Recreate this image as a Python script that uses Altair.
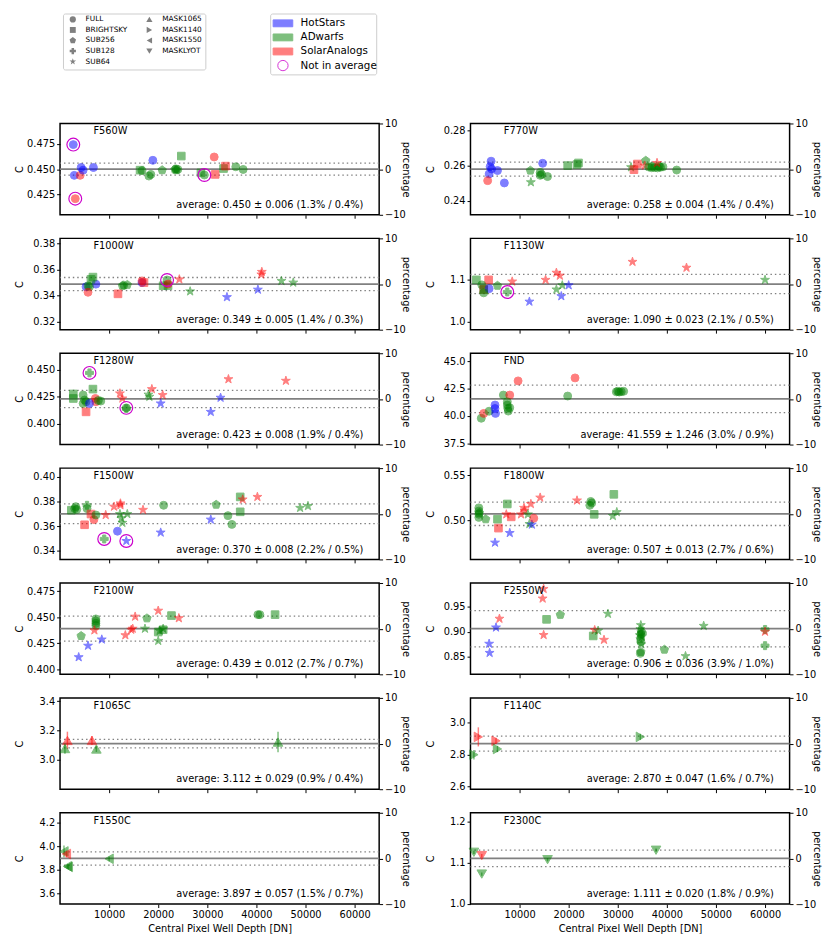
import altair as alt
import pandas as pd

# ---------------- data ----------------
FILTERS = ["F560W", "F770W", "F1000W", "F1130W", "F1280W", "FND", "F1500W",
           "F1800W", "F2100W", "F2550W", "F1065C", "F1140C", "F1550C", "F2300C"]
AVERAGE = [0.450, 0.258, 0.349, 1.090, 0.423, 41.559, 0.370, 0.507, 0.439, 0.906,
           3.112, 2.870, 3.897, 1.111]
STDDEV = [0.006, 0.004, 0.005, 0.023, 0.008, 1.246, 0.008, 0.013, 0.012, 0.036,
          0.029, 0.047, 0.057, 0.020]
PCT_STD = [1.3, 1.4, 1.4, 2.1, 1.9, 3.0, 2.2, 2.7, 2.7, 3.9, 0.9, 1.6, 1.5, 1.8]
PCT_ERR = [0.4, 0.4, 0.3, 0.5, 0.4, 0.9, 0.5, 0.6, 0.7, 1.0, 0.4, 0.7, 0.7, 0.9]
Y_TICKS = [
    [0.425, 0.450, 0.475], [0.24, 0.26, 0.28], [0.32, 0.34, 0.36, 0.38], [1.0, 1.1],
    [0.400, 0.425, 0.450], [37.5, 40.0, 42.5, 45.0], [0.34, 0.36, 0.38, 0.40],
    [0.50, 0.55], [0.400, 0.425, 0.450, 0.475], [0.85, 0.90, 0.95],
    [3.0, 3.2, 3.4], [2.6, 2.8, 3.0], [3.6, 3.8, 4.0, 4.2], [1.0, 1.1, 1.2],
]
Y_FMT = [".3f", ".2f", ".2f", ".1f", ".3f", ".1f", ".2f", ".2f", ".3f", ".2f",
         ".1f", ".1f", ".1f", ".1f"]
X_TICKS = [10000, 20000, 30000, 40000, 50000, 60000]
PCT_TICKS = [-10, 0, 10]

GROUPS = ["HotStars", "ADwarfs", "SolarAnalogs"]
GROUP_CODES = ["H", "A", "S"]
GROUP_COLORS = ["#0000ff", "#008000", "#ff0000"]

MODES = ["FULL", "BRIGHTSKY", "SUB256", "SUB128", "SUB64",
         "MASK1065", "MASK1140", "MASK1550", "MASKLYOT"]
PENTAGON = "M0,-1L0.951,-0.309L0.588,0.809L-0.588,0.809L-0.951,-0.309Z"
STAR = ("M0,-1L0.2245,-0.309L0.951,-0.309L0.363,0.118L0.588,0.809L0,0.382"
        "L-0.588,0.809L-0.363,0.118L-0.951,-0.309L-0.2245,-0.309Z")
MODE_SHAPES = ["circle", "square", PENTAGON, "cross", STAR,
               "triangle-up", "triangle-right", "triangle-left", "triangle-down"]
MODE_SIZES = [65, 60, 80, 65, 90, 95, 95, 95, 95]
LEGEND_SIZES = [40, 36, 48, 40, 50, 40, 40, 40, 40]

# (well depth [DN], C, group, readout mode, excluded from average)
F560W = [
    (2700, 0.4742, "H", "FULL", 1), (3100, 0.4209, "S", "FULL", 1),
    (2900, 0.4439, "H", "FULL", 0), (4100, 0.4439, "S", "FULL", 0),
    (4300, 0.4516, "H", "FULL", 0), (4700, 0.4490, "H", "FULL", 0),
    (6800, 0.4516, "H", "FULL", 0), (16300, 0.4490, "A", "BRIGHTSKY", 0),
    (16700, 0.4485, "A", "FULL", 0), (18100, 0.4432, "A", "FULL", 0),
    (18500, 0.4448, "A", "FULL", 0), (18900, 0.4587, "H", "FULL", 0),
    (20800, 0.4490, "A", "SUB256", 0), (23400, 0.4497, "A", "SUB256", 0),
    (23700, 0.4490, "A", "SUB256", 0), (24000, 0.4497, "A", "FULL", 0),
    (23600, 0.4503, "A", "FULL", 0), (24700, 0.4629, "A", "BRIGHTSKY", 0),
    (28700, 0.4464, "A", "BRIGHTSKY", 0), (29400, 0.4442, "A", "FULL", 1),
    (31400, 0.4620, "S", "FULL", 0), (31600, 0.4448, "S", "BRIGHTSKY", 0),
    (33300, 0.4506, "A", "BRIGHTSKY", 0), (33700, 0.4530, "S", "BRIGHTSKY", 0),
    (35800, 0.4523, "A", "FULL", 0), (37300, 0.4497, "A", "FULL", 0),
]
F770W = [
    (4200, 0.2625, "H", "FULL", 0), (4000, 0.2594, "H", "FULL", 0),
    (4300, 0.2581, "H", "FULL", 0), (5500, 0.2572, "H", "FULL", 0),
    (3800, 0.2553, "H", "FULL", 0), (6900, 0.2502, "H", "FULL", 0),
    (3500, 0.2515, "S", "FULL", 0), (12200, 0.2572, "A", "SUB256", 0),
    (12300, 0.2506, "A", "SUB64", 0), (14200, 0.2562, "A", "FULL", 0),
    (14200, 0.2545, "A", "FULL", 0), (14500, 0.2550, "A", "FULL", 0),
    (15700, 0.2538, "A", "FULL", 0), (14700, 0.2613, "H", "FULL", 0),
    (19800, 0.2600, "A", "BRIGHTSKY", 0), (21700, 0.2606, "A", "BRIGHTSKY", 0),
    (22000, 0.2615, "A", "BRIGHTSKY", 0), (32700, 0.2591, "A", "SUB64", 0),
    (34000, 0.2609, "S", "BRIGHTSKY", 0), (33300, 0.2577, "S", "BRIGHTSKY", 0),
    (35700, 0.2628, "A", "SUB256", 0), (35500, 0.2600, "S", "SUB64", 0),
    (36300, 0.2592, "A", "FULL", 0), (36900, 0.2588, "A", "FULL", 0),
    (37500, 0.2590, "A", "FULL", 0), (38100, 0.2587, "A", "FULL", 0),
    (38700, 0.2591, "A", "FULL", 0), (39200, 0.2593, "A", "FULL", 0),
    (37000, 0.2596, "A", "FULL", 0), (38400, 0.2596, "A", "FULL", 0),
    (38000, 0.2615, "S", "SUB64", 0), (42000, 0.2575, "A", "FULL", 0),
]
F1000W = [
    (5300, 0.3469, "H", "FULL", 0), (7300, 0.3489, "H", "FULL", 0),
    (5700, 0.3476, "A", "FULL", 0), (6000, 0.3470, "A", "FULL", 0),
    (6700, 0.3543, "A", "BRIGHTSKY", 0), (6300, 0.3526, "A", "BRIGHTSKY", 0),
    (5700, 0.3427, "S", "FULL", 0), (12700, 0.3477, "A", "SUB256", 0),
    (13000, 0.3480, "A", "SUB256", 0), (13700, 0.3484, "A", "SUB256", 0),
    (11800, 0.3415, "S", "BRIGHTSKY", 0), (16700, 0.3501, "H", "FULL", 0),
    (16700, 0.3514, "S", "FULL", 0), (17100, 0.3501, "S", "BRIGHTSKY", 0),
    (21800, 0.3521, "A", "FULL", 1), (21000, 0.3477, "A", "BRIGHTSKY", 0),
    (22000, 0.3477, "A", "BRIGHTSKY", 0), (22000, 0.3490, "S", "FULL", 0),
    (24300, 0.3526, "S", "SUB64", 0), (26500, 0.3434, "A", "SUB64", 0),
    (34000, 0.3390, "H", "SUB64", 0), (40300, 0.3447, "H", "SUB64", 0),
    (41100, 0.3583, "S", "SUB64", 0), (41000, 0.3563, "S", "SUB64", 0),
    (45100, 0.3514, "A", "SUB64", 0), (47500, 0.3501, "A", "SUB64", 0),
]
F1130W = [
    (1200, 1.100, "A", "BRIGHTSKY", 0), (3700, 1.100, "S", "BRIGHTSKY", 0),
    (2300, 1.088, "A", "FULL", 0), (2700, 1.077, "S", "BRIGHTSKY", 0),
    (2700, 1.077, "A", "BRIGHTSKY", 0), (3800, 1.079, "H", "FULL", 0),
    (5500, 1.086, "A", "SUB256", 0), (2700, 1.069, "A", "FULL", 0),
    (7500, 1.071, "A", "SUB128", 1), (8500, 1.096, "S", "SUB64", 0),
    (12000, 1.048, "H", "SUB64", 0), (15300, 1.100, "S", "SUB64", 0),
    (17500, 1.117, "S", "SUB64", 0), (18200, 1.110, "S", "SUB64", 0),
    (17500, 1.077, "A", "SUB64", 0), (18700, 1.087, "A", "SUB64", 0),
    (18500, 1.061, "H", "SUB64", 0), (20000, 1.087, "H", "SUB64", 0),
    (33000, 1.143, "S", "SUB64", 0), (44000, 1.129, "S", "SUB64", 0),
    (60000, 1.100, "A", "SUB64", 0),
]
F1280W = [
    (6000, 0.4471, "A", "SUB128", 1), (2700, 0.4234, "A", "BRIGHTSKY", 0),
    (2700, 0.4276, "A", "BRIGHTSKY", 0), (6700, 0.4321, "A", "BRIGHTSKY", 0),
    (4700, 0.4266, "A", "FULL", 0), (4700, 0.4188, "A", "FULL", 0),
    (5300, 0.4203, "A", "FULL", 0), (5000, 0.4220, "A", "FULL", 0),
    (5300, 0.4110, "S", "BRIGHTSKY", 0), (7200, 0.4234, "S", "FULL", 0),
    (7300, 0.4203, "S", "FULL", 0), (8300, 0.4210, "A", "FULL", 0),
    (7800, 0.4215, "A", "FULL", 0), (6000, 0.4188, "H", "FULL", 0),
    (12200, 0.4281, "S", "SUB64", 0), (12700, 0.4234, "S", "SUB64", 0),
    (13500, 0.4147, "A", "FULL", 1), (13500, 0.4140, "A", "SUB128", 0),
    (18700, 0.4321, "S", "SUB64", 0), (18200, 0.4250, "A", "SUB64", 0),
    (18000, 0.4270, "A", "SUB64", 0), (20900, 0.4266, "S", "SUB64", 0),
    (20500, 0.4188, "H", "SUB64", 0), (30700, 0.4110, "H", "SUB64", 0),
    (32700, 0.4241, "H", "SUB64", 0), (34300, 0.4413, "S", "SUB64", 0),
    (46000, 0.4398, "S", "SUB64", 0),
]
FND = [
    (2200, 39.80, "A", "FULL", 0), (2700, 40.24, "S", "FULL", 0),
    (3800, 40.44, "A", "FULL", 0), (5000, 41.00, "H", "FULL", 0),
    (5000, 40.68, "H", "FULL", 0), (5100, 40.24, "H", "FULL", 0),
    (6700, 41.91, "A", "FULL", 0), (8000, 41.91, "S", "FULL", 0),
    (7500, 41.30, "A", "FULL", 0), (7500, 41.00, "A", "FULL", 0),
    (7600, 40.70, "A", "FULL", 0), (7700, 40.45, "A", "FULL", 0),
    (8000, 40.75, "A", "FULL", 0), (9700, 43.20, "S", "FULL", 0),
    (19800, 41.82, "A", "FULL", 0), (21300, 43.47, "S", "FULL", 0),
    (29700, 42.20, "A", "FULL", 0), (30000, 42.25, "A", "FULL", 0),
    (30300, 42.18, "A", "FULL", 0), (30700, 42.22, "A", "FULL", 0),
    (31200, 42.25, "A", "FULL", 0),
]
F1500W = [
    (3000, 0.3742, "A", "FULL", 0), (3200, 0.3758, "A", "FULL", 0),
    (3400, 0.3735, "A", "FULL", 0), (2300, 0.3729, "A", "BRIGHTSKY", 0),
    (5500, 0.3769, "A", "SUB128", 0), (5500, 0.3742, "A", "FULL", 0),
    (6300, 0.3698, "S", "BRIGHTSKY", 0), (5000, 0.3611, "S", "BRIGHTSKY", 0),
    (6900, 0.3653, "S", "FULL", 0), (7300, 0.3690, "A", "FULL", 0),
    (9300, 0.3690, "S", "SUB64", 0), (9000, 0.3496, "A", "SUB128", 1),
    (11700, 0.3559, "H", "FULL", 0), (11000, 0.3758, "S", "SUB64", 0),
    (12300, 0.3769, "S", "SUB64", 0), (12300, 0.3784, "S", "SUB64", 0),
    (12200, 0.3698, "A", "SUB64", 0), (12700, 0.3627, "A", "SUB64", 0),
    (12500, 0.3664, "A", "SUB64", 0), (13700, 0.3698, "A", "SUB64", 0),
    (13500, 0.3480, "H", "SUB64", 1), (16900, 0.3732, "S", "SUB64", 0),
    (21100, 0.3769, "A", "FULL", 0), (20500, 0.3548, "H", "SUB64", 0),
    (30700, 0.3653, "H", "SUB64", 0), (31800, 0.3774, "A", "SUB256", 0),
    (34200, 0.3685, "A", "FULL", 0), (35000, 0.3614, "A", "FULL", 0),
    (36700, 0.3837, "A", "BRIGHTSKY", 0), (36700, 0.3716, "A", "BRIGHTSKY", 0),
    (37200, 0.3816, "S", "SUB64", 0), (40200, 0.3837, "S", "SUB64", 0),
    (48900, 0.3748, "A", "SUB64", 0), (50500, 0.3763, "A", "SUB64", 0),
]
F1800W = [
    (1700, 0.5136, "A", "FULL", 0), (1700, 0.5100, "A", "FULL", 0),
    (1700, 0.5065, "A", "FULL", 0), (1700, 0.5030, "A", "FULL", 0),
    (1800, 0.5080, "A", "SUB256", 0), (3100, 0.5010, "A", "SUB256", 0),
    (5500, 0.5010, "A", "BRIGHTSKY", 0), (7500, 0.5179, "A", "BRIGHTSKY", 0),
    (5700, 0.4911, "S", "BRIGHTSKY", 0), (5000, 0.4750, "H", "SUB64", 0),
    (8000, 0.4857, "H", "SUB64", 0), (7300, 0.5064, "S", "SUB64", 0),
    (8300, 0.5036, "S", "BRIGHTSKY", 0), (10300, 0.5064, "S", "SUB64", 0),
    (10900, 0.5136, "S", "SUB64", 0), (11000, 0.5107, "S", "SUB64", 0),
    (12300, 0.5179, "S", "SUB64", 0), (14200, 0.5250, "S", "SUB64", 0),
    (12000, 0.4957, "A", "SUB64", 0), (11700, 0.5064, "A", "SUB64", 0),
    (12500, 0.4950, "H", "SUB64", 0), (12900, 0.5021, "S", "FULL", 0),
    (21700, 0.5218, "S", "SUB64", 0), (24500, 0.5207, "A", "FULL", 0),
    (24300, 0.5164, "A", "FULL", 0), (24700, 0.5190, "A", "FULL", 0),
    (25200, 0.5064, "A", "BRIGHTSKY", 0), (29200, 0.5286, "A", "BRIGHTSKY", 0),
    (29000, 0.5046, "A", "SUB64", 0), (29800, 0.5089, "A", "SUB64", 0),
]
F2100W = [
    (3800, 0.4116, "H", "SUB64", 0), (5700, 0.4226, "H", "SUB64", 0),
    (8500, 0.4286, "H", "SUB64", 0), (4300, 0.4320, "A", "SUB256", 0),
    (7300, 0.4484, "A", "FULL", 0), (7300, 0.4463, "A", "FULL", 0),
    (7300, 0.4442, "A", "FULL", 0), (7300, 0.4421, "A", "FULL", 0),
    (7000, 0.4374, "S", "SUB64", 0), (13300, 0.4327, "S", "SUB64", 0),
    (14800, 0.4390, "S", "SUB64", 0), (14500, 0.4380, "S", "SUB64", 0),
    (15300, 0.4506, "S", "SUB64", 0), (17300, 0.4390, "A", "SUB64", 0),
    (17700, 0.4490, "A", "SUB256", 0), (20000, 0.4563, "S", "SUB64", 0),
    (20000, 0.4358, "A", "BRIGHTSKY", 0), (21000, 0.4380, "A", "BRIGHTSKY", 0),
    (20000, 0.4273, "A", "SUB64", 0), (20300, 0.4370, "A", "SUB64", 0),
    (21000, 0.4390, "A", "SUB64", 0), (22700, 0.4516, "A", "BRIGHTSKY", 0),
    (24200, 0.4491, "S", "SUB64", 0), (40300, 0.4525, "A", "FULL", 0),
    (40700, 0.4525, "A", "FULL", 0), (43800, 0.4525, "A", "BRIGHTSKY", 0),
]
F2550W = [
    (3800, 0.8761, "H", "SUB64", 0), (3900, 0.8580, "H", "SUB64", 0),
    (5200, 0.9084, "H", "SUB64", 0), (5900, 0.9258, "S", "SUB64", 0),
    (14700, 0.9658, "S", "SUB64", 0), (14900, 0.9850, "S", "SUB64", 0),
    (14900, 0.8935, "S", "SUB64", 0), (15500, 0.9245, "A", "BRIGHTSKY", 0),
    (18300, 0.9335, "A", "SUB256", 0), (25300, 0.9032, "S", "SUB64", 0),
    (26000, 0.9020, "A", "SUB64", 0), (25000, 0.8916, "A", "BRIGHTSKY", 0),
    (27200, 0.8839, "S", "SUB64", 0), (28000, 0.9355, "A", "SUB64", 0),
    (34700, 0.9130, "A", "SUB64", 0), (34600, 0.9050, "A", "SUB64", 0),
    (34800, 0.9000, "A", "SUB256", 0), (34700, 0.8950, "A", "FULL", 0),
    (34900, 0.8900, "A", "SUB64", 0), (34600, 0.8860, "A", "SUB256", 0),
    (34700, 0.8800, "A", "FULL", 0), (34800, 0.8750, "A", "SUB64", 0),
    (34700, 0.8600, "A", "SUB256", 0), (34600, 0.8570, "A", "FULL", 0),
    (35000, 0.8970, "A", "SUB128", 0), (34500, 0.8930, "A", "SUB64", 0),
    (39500, 0.8645, "A", "SUB256", 0), (43800, 0.8516, "A", "SUB64", 0),
    (47500, 0.9116, "A", "SUB64", 0), (60000, 0.9045, "A", "SUB128", 0),
    (60000, 0.9000, "S", "SUB64", 0), (60000, 0.8723, "A", "SUB128", 0),
]
F1065C = [
    (1500, 3.133, "S", "MASK1065", 0), (1000, 3.078, "A", "MASK1065", 0),
    (6500, 3.133, "S", "MASK1065", 0), (7400, 3.075, "A", "MASK1065", 0),
    (44400, 3.122, "A", "MASK1065", 0),
]
F1065C_ERR = [0.060, 0.035, 0.030, 0.020, 0.070]
F1140C = [
    (1600, 2.912, "S", "MASK1140", 0), (700, 2.800, "A", "MASK1140", 0),
    (5200, 2.887, "S", "MASK1140", 0), (5500, 2.836, "A", "MASK1140", 0),
    (34600, 2.912, "A", "MASK1140", 0),
]
F1140C_ERR = [0.060, 0.030, 0.020, 0.020, 0.020]
F1550C = [
    (800, 3.957, "A", "MASK1550", 0), (1300, 3.935, "S", "MASK1550", 0),
    (1500, 3.830, "A", "MASK1550", 0), (1700, 3.825, "A", "MASK1550", 0),
    (10000, 3.894, "A", "MASK1550", 0),
]
F1550C_ERR = [0.050, 0.030, 0.020, 0.020, 0.020]
F2300C = [
    (700, 1.126, "A", "MASKLYOT", 0), (2300, 1.118, "S", "MASKLYOT", 0),
    (2300, 1.073, "A", "MASKLYOT", 0), (15700, 1.108, "A", "MASKLYOT", 0),
    (37800, 1.131, "A", "MASKLYOT", 0),
]
F2300C_ERR = [0.004, 0.004, 0.004, 0.004, 0.004]

POINTS = [F560W, F770W, F1000W, F1130W, F1280W, FND, F1500W, F1800W, F2100W,
          F2550W, F1065C, F1140C, F1550C, F2300C]
ERRORS = {10: F1065C_ERR, 11: F1140C_ERR, 12: F1550C_ERR, 13: F2300C_ERR}

# ---------------- styling ----------------
W, H = 325, 93
RING = "#cc00cc"
FONT = "DejaVu Sans"
color_scale = alt.Scale(domain=GROUPS, range=GROUP_COLORS)
shape_scale = alt.Scale(domain=MODES, range=MODE_SHAPES)
xscale = alt.Scale(domain=[0, 65000], nice=False, zero=False)


def panel(i, bottom):
    name, a, s = FILTERS[i], AVERAGE[i], STDDEV[i]
    df = pd.DataFrame(POINTS[i], columns=["x", "c", "g", "mode", "excl"])
    df["g"] = df["g"].map(dict(zip(GROUP_CODES, GROUPS)))
    df["sz"] = df["mode"].map(dict(zip(MODES, MODE_SIZES)))
    err = ERRORS.get(i, [0.0] * len(df))
    df["lo"] = df["c"] - pd.Series(err)
    df["hi"] = df["c"] + pd.Series(err)
    df["v"] = df["c"]

    xtitle = "Central Pixel Well Depth [DN]" if bottom else ""
    ys = alt.Scale(domain=[0.9 * a, 1.1 * a], nice=False, zero=False)
    xaxis = alt.Axis(values=X_TICKS, labels=bottom, format="d", grid=False,
                     title=xtitle, titlePadding=4)
    yaxis = alt.Axis(values=Y_TICKS[i], format=Y_FMT[i], title="C", orient="left",
                     grid=False, minExtent=33, maxExtent=33, titlePadding=3)
    X = alt.X("x:Q", scale=xscale, axis=xaxis, title=xtitle)

    dotted = alt.Chart(pd.DataFrame({"v": [a - s, a + s]})).mark_rule(
        color="#808080", strokeDash=[1.5, 3], strokeWidth=1.3
    ).encode(y=alt.Y("v:Q", scale=ys, axis=yaxis, title="C"))

    errs = alt.Chart(df[df["hi"] > df["lo"]]).mark_rule(
        strokeWidth=1.5, opacity=0.5
    ).encode(
        x=X,
        y=alt.Y("lo:Q", scale=ys, axis=yaxis, title="C"), y2="hi:Q",
        color=alt.Color("g:N", scale=color_scale, legend=None),
    )

    pts = alt.Chart(df).mark_point(filled=True, opacity=0.5, strokeWidth=1).encode(
        x=X,
        y=alt.Y("v:Q", scale=ys, axis=yaxis, title="C"),
        color=alt.Color("g:N", scale=color_scale, legend=None),
        stroke=alt.Stroke("g:N", scale=color_scale, legend=None),
        shape=alt.Shape("mode:N", scale=shape_scale, legend=None),
        size=alt.Size("sz:Q", scale=None),
    )

    rings = alt.Chart(df[df["excl"] == 1]).mark_point(
        shape="circle", filled=False, color=RING, size=170, strokeWidth=1.2, opacity=1
    ).encode(
        x=X,
        y=alt.Y("v:Q", scale=ys, axis=yaxis, title="C"),
    )

    label = alt.Chart(pd.DataFrame({"t": [name]})).mark_text(
        align="left", baseline="middle", fontSize=10, font=FONT, color="black"
    ).encode(x=alt.value(34), y=alt.value(8), text="t:N")

    avg_text = f"average: {a:.3f} \u00b1 {s:.3f} ({PCT_STD[i]:.1f}% / {PCT_ERR[i]:.1f}%)"
    avgt = alt.Chart(pd.DataFrame({"t": [avg_text]})).mark_text(
        align="right", baseline="middle", fontSize=10, font=FONT, color="black"
    ).encode(x=alt.value(W - 16), y=alt.value(H - 10), text="t:N")

    pct = alt.Chart(pd.DataFrame({"p": [0]})).mark_rule(
        color="#808080", strokeWidth=1.8
    ).encode(
        y=alt.Y("p:Q", scale=alt.Scale(domain=[-10, 10], nice=False), title="percentage",
                axis=alt.Axis(values=PCT_TICKS, title="percentage", orient="right",
                              grid=False, minExtent=20, maxExtent=20, titlePadding=2))
    )

    inner = alt.layer(dotted, errs, pts, rings, label, avgt)
    return alt.layer(pct, inner).resolve_scale(y="independent").properties(
        width=W, height=H)


rows = []
for r in range(7):
    rows.append(alt.hconcat(panel(2 * r, r == 6), panel(2 * r + 1, r == 6), spacing=13))
grid = alt.vconcat(*rows, spacing=12)

# ---------------- legends ----------------
leg_shape_df = pd.DataFrame({
    "mode": MODES,
    "col": [k // 5 for k in range(len(MODES))],
    "row": [k % 5 for k in range(len(MODES))],
    "sz": LEGEND_SIZES,
})
lx = alt.Scale(domain=[0, 1], range=[10, 88])
ly = alt.Scale(domain=[0, 4], range=[6, 49])
leg_shape_marks = alt.Chart(leg_shape_df).mark_point(
    filled=True, color="#808080", opacity=1
).encode(
    x=alt.X("col:Q", scale=lx, axis=None),
    y=alt.Y("row:Q", scale=ly, axis=None),
    shape=alt.Shape("mode:N", scale=shape_scale, legend=None),
    size=alt.Size("sz:Q", scale=None),
)
leg_shape_text = alt.Chart(leg_shape_df).mark_text(
    align="left", baseline="middle", dx=13, fontSize=7.5, font=FONT, color="black"
).encode(
    x=alt.X("col:Q", scale=lx, axis=None),
    y=alt.Y("row:Q", scale=ly, axis=None),
    text="mode:N",
)
leg_shape = alt.layer(leg_shape_marks, leg_shape_text).properties(
    width=145, height=57,
    view=alt.ViewBackground(stroke="#cccccc", strokeWidth=1, cornerRadius=2),
)

LEG_LABELS = GROUPS + ["Not in average"]
leg_col_df = pd.DataFrame({"label": LEG_LABELS, "row": list(range(len(LEG_LABELS)))})
cy = alt.Scale(domain=[0, 3], range=[10, 53])
RECT = "M-1,-0.35L1,-0.35L1,0.35L-1,0.35Z"
leg_patch = alt.Chart(leg_col_df[leg_col_df["row"] < 3]).mark_point(
    shape=RECT, filled=True, size=400, opacity=0.5, strokeWidth=1
).encode(
    x=alt.value(13),
    y=alt.Y("row:Q", scale=cy, axis=None),
    color=alt.Color("label:N", scale=color_scale, legend=None),
    stroke=alt.Stroke("label:N", scale=color_scale, legend=None),
)
leg_ring = alt.Chart(leg_col_df[leg_col_df["row"] == 3]).mark_point(
    shape="circle", filled=False, color=RING, size=110, strokeWidth=1, opacity=0.8
).encode(x=alt.value(13), y=alt.Y("row:Q", scale=cy, axis=None))
leg_col_text = alt.Chart(leg_col_df).mark_text(
    align="left", baseline="middle", fontSize=10.5, font=FONT, color="black"
).encode(x=alt.value(31), y=alt.Y("row:Q", scale=cy, axis=None), text="label:N")
leg_color = alt.layer(leg_patch, leg_ring, leg_col_text).properties(
    width=108, height=62,
    view=alt.ViewBackground(stroke="#cccccc", strokeWidth=1, cornerRadius=2),
)


def spacer(w):
    return alt.Chart(pd.DataFrame({"a": [0]})).mark_point(opacity=0, size=1).encode(
        x=alt.value(0), y=alt.value(0)
    ).properties(width=w, height=10,
                 view=alt.ViewBackground(stroke="transparent", strokeWidth=0))


legend_row = alt.hconcat(spacer(2), leg_shape, spacer(63), leg_color, spacing=0)

chart = alt.concat(legend_row, grid, columns=1, spacing=43, align="none").properties(
    padding={"left": 6, "top": -4, "right": 0, "bottom": 0}
).configure(font=FONT).configure_view(
    stroke="black", strokeWidth=1.5
).configure_axis(
    labelFontSize=10, titleFontSize=10, labelColor="black", titleColor="black",
    tickColor="black", titleFontWeight="normal", domain=False, tickSize=3.5,
    tickWidth=1, labelPadding=2, labelFont=FONT, titleFont=FONT
)

chart.save("out.html", embed_options={"renderer": "svg", "actions": False})
